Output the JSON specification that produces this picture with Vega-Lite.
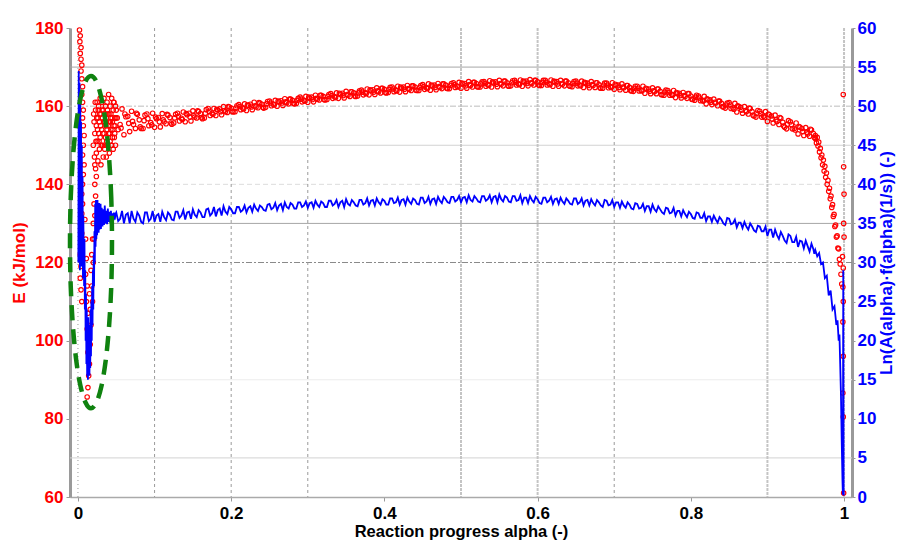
{
"$schema": "https://vega.github.io/schema/vega-lite/v6.json",
"width": 782, "height": 469,
"autosize": {"type": "none"},
"padding": {"left": 70, "top": 28, "right": 47, "bottom": 57},
"background": "white",
"config": {"view": {"stroke": null}, "font": "Liberation Sans",
 "axisX": {"grid":false,"labelFont":"Liberation Sans","labelFontSize":17,"labelFontWeight":"bold","labelColor":"#000000","labelFlush":false,"titleFont":"Liberation Sans","titleFontSize":16.5,"titleFontWeight":"bold","titleColor":"#000000","domainColor":"#aaaaaa","domainWidth":1.5,"tickColor":"#999999","tickSize":4,"labelPadding":4,"titlePadding":2}},
"datasets": {
"red": [
{"a":0.002,"e":179.5},{"a":0.003,"e":178},{"a":0.0025,"e":176.5},{"a":0.004,"e":175},{"a":0.003,"e":173.5},{"a":0.004,"e":172},{"a":0.005,"e":170.5},{"a":0.004,"e":169},{"a":0.005,"e":167},{"a":0.006,"e":165},{"a":0.005,"e":163},{"a":0.006,"e":161},{"a":0.007,"e":159},{"a":0.006,"e":157},{"a":0.007,"e":155},{"a":0.008,"e":152.5},{"a":0.007,"e":150},{"a":0.006,"e":147.5},{"a":0.008,"e":145},{"a":0.007,"e":142.5},{"a":0.006,"e":140},{"a":0.005,"e":137.5},{"a":0.006,"e":135},{"a":0.005,"e":132.5},{"a":0.004,"e":130},{"a":0.005,"e":127.5},{"a":0.004,"e":125},{"a":0.003,"e":122},{"a":0.004,"e":119},{"a":0.003,"e":116},{"a":0.004,"e":113},{"a":0.005,"e":110},
{"a":0.009,"e":131},{"a":0.010,"e":126},{"a":0.011,"e":121},{"a":0.010,"e":117},{"a":0.012,"e":114},{"a":0.011,"e":110},{"a":0.013,"e":107},{"a":0.012,"e":103},{"a":0.014,"e":100},{"a":0.013,"e":97},{"a":0.015,"e":94},{"a":0.014,"e":91},{"a":0.013,"e":88},{"a":0.012,"e":85.6},{"a":0.015,"e":112},{"a":0.016,"e":108},{"a":0.017,"e":104},{"a":0.016,"e":99},{"a":0.017,"e":118},{"a":0.018,"e":114},{"a":0.019,"e":110},{"a":0.018,"e":122},{"a":0.019,"e":126},{"a":0.020,"e":120},{"a":0.020,"e":130},{"a":0.021,"e":135},{"a":0.021,"e":126},{"a":0.022,"e":140},{"a":0.022,"e":132},{"a":0.023,"e":144},{"a":0.023,"e":137},{"a":0.022,"e":145},{"a":0.024,"e":142},
{"a":0.020,"e":150},{"a":0.021,"e":156},{"a":0.022,"e":153},{"a":0.023,"e":159},{"a":0.024,"e":148},{"a":0.024,"e":155},{"a":0.025,"e":161},{"a":0.025,"e":151},{"a":0.026,"e":146},{"a":0.026,"e":157},{"a":0.027,"e":153},{"a":0.027,"e":160},{"a":0.028,"e":149},{"a":0.028,"e":156},{"a":0.029,"e":162},{"a":0.029,"e":152},{"a":0.030,"e":145},{"a":0.030,"e":158},{"a":0.031,"e":154},{"a":0.031,"e":161},{"a":0.032,"e":150},{"a":0.032,"e":157},{"a":0.033,"e":147},{"a":0.033,"e":159},{"a":0.034,"e":153},{"a":0.034,"e":162},{"a":0.035,"e":156},{"a":0.035,"e":149},{"a":0.036,"e":160},{"a":0.036,"e":152},{"a":0.037,"e":157},{"a":0.037,"e":147},{"a":0.038,"e":154},{"a":0.038,"e":161},{"a":0.039,"e":150},{"a":0.039,"e":158},{"a":0.040,"e":163},{"a":0.040,"e":153},{"a":0.041,"e":156},{"a":0.041,"e":148},{"a":0.042,"e":160},{"a":0.042,"e":151},{"a":0.043,"e":158},{"a":0.043,"e":154},{"a":0.044,"e":162},{"a":0.044,"e":150},{"a":0.045,"e":156},{"a":0.045,"e":152},{"a":0.046,"e":159},{"a":0.046,"e":149},{"a":0.047,"e":155},{"a":0.047,"e":161},{"a":0.048,"e":153},{"a":0.048,"e":157},{"a":0.049,"e":150},{"a":0.049,"e":160},
{"a":0.0205,"e":158},{"a":0.0215,"e":147},{"a":0.0225,"e":161},{"a":0.0235,"e":151},{"a":0.0245,"e":157},{"a":0.0255,"e":154},{"a":0.0265,"e":159},{"a":0.0275,"e":151},{"a":0.0285,"e":158},{"a":0.0295,"e":155},{"a":0.0305,"e":150},{"a":0.0315,"e":159},{"a":0.0325,"e":153},{"a":0.0335,"e":156},{"a":0.0345,"e":150},{"a":0.0355,"e":158},{"a":0.0365,"e":155},{"a":0.0375,"e":151},{"a":0.0385,"e":159},{"a":0.0395,"e":155},{"a":0.0405,"e":158},{"a":0.0415,"e":153},{"a":0.0425,"e":156},{"a":0.0435,"e":150},{"a":0.0445,"e":157},{"a":0.0455,"e":154},{"a":0.0465,"e":161},{"a":0.0475,"e":152},{"a":0.0485,"e":155},{"a":0.0495,"e":157},
{"a":0.05,"e":159.0},{"a":0.0525,"e":154.0},{"a":0.055,"e":155.3},{"a":0.0575,"e":159.3},{"a":0.06,"e":152.7},{"a":0.0625,"e":157.3},{"a":0.065,"e":157.4},{"a":0.0675,"e":153.5},{"a":0.07,"e":158.7},{"a":0.0725,"e":155.3},{"a":0.075,"e":154.3},{"a":0.0775,"e":157.9},{"a":0.08,"e":156.5},{"a":0.0825,"e":154.3},{"a":0.085,"e":154.3},{"a":0.0875,"e":157.7},{"a":0.09,"e":158.0},{"a":0.0925,"e":155.0},{"a":0.095,"e":155.8},{"a":0.0975,"e":158.2},
{"a":0.1,"e":154.6},{"a":0.1025,"e":156.8},{"a":0.105,"e":157.1},{"a":0.1075,"e":154.7},{"a":0.11,"e":158.1},{"a":0.1125,"e":156.0},{"a":0.115,"e":155.5},{"a":0.1175,"e":157.7},{"a":0.12,"e":157.1},{"a":0.1225,"e":155.4},{"a":0.125,"e":155.7},{"a":0.1275,"e":157.9},{"a":0.13,"e":158.2},{"a":0.1325,"e":156.2},{"a":0.135,"e":156.9},{"a":0.1375,"e":158.5},{"a":0.14,"e":156.0},{"a":0.1425,"e":157.8},{"a":0.145,"e":158.2},{"a":0.1475,"e":156.2},
{"a":0.15,"e":158.8},{"a":0.1525,"e":157.2},{"a":0.155,"e":157.0},{"a":0.1575,"e":158.6},{"a":0.16,"e":158.1},{"a":0.1625,"e":156.8},{"a":0.165,"e":157.0},{"a":0.1675,"e":159.1},{"a":0.17,"e":159.4},{"a":0.1725,"e":157.6},{"a":0.175,"e":158.2},{"a":0.1775,"e":159.4},{"a":0.18,"e":157.6},{"a":0.1825,"e":159.0},{"a":0.185,"e":159.3},{"a":0.1875,"e":157.8},{"a":0.19,"e":159.9},{"a":0.1925,"e":158.6},{"a":0.195,"e":158.4},{"a":0.1975,"e":159.8},
{"a":0.2,"e":159.5},{"a":0.2025,"e":158.5},{"a":0.205,"e":158.6},{"a":0.2075,"e":160.1},{"a":0.21,"e":160.4},{"a":0.2125,"e":159.1},{"a":0.215,"e":159.5},{"a":0.2175,"e":160.6},{"a":0.22,"e":158.9},{"a":0.2225,"e":160.2},{"a":0.225,"e":160.5},{"a":0.2275,"e":159.1},{"a":0.23,"e":161.0},{"a":0.2325,"e":159.8},{"a":0.235,"e":159.6},{"a":0.2375,"e":160.8},{"a":0.24,"e":160.5},{"a":0.2425,"e":159.5},{"a":0.245,"e":159.7},{"a":0.2475,"e":161.2},
{"a":0.25,"e":161.3},{"a":0.2525,"e":160.1},{"a":0.255,"e":160.5},{"a":0.2575,"e":161.5},{"a":0.26,"e":160.0},{"a":0.2625,"e":161.1},{"a":0.265,"e":161.4},{"a":0.2675,"e":160.2},{"a":0.27,"e":161.9},{"a":0.2725,"e":160.9},{"a":0.275,"e":160.6},{"a":0.2775,"e":161.8},{"a":0.28,"e":161.5},{"a":0.2825,"e":160.6},{"a":0.285,"e":160.7},{"a":0.2875,"e":162.0},{"a":0.29,"e":162.3},{"a":0.2925,"e":161.1},{"a":0.295,"e":161.5},{"a":0.2975,"e":162.5},
{"a":0.3,"e":161.0},{"a":0.3025,"e":162.1},{"a":0.305,"e":162.3},{"a":0.3075,"e":161.1},{"a":0.31,"e":162.8},{"a":0.3125,"e":161.8},{"a":0.315,"e":161.6},{"a":0.3175,"e":162.8},{"a":0.32,"e":162.5},{"a":0.3225,"e":161.6},{"a":0.325,"e":161.7},{"a":0.3275,"e":163.0},{"a":0.33,"e":163.2},{"a":0.3325,"e":162.0},{"a":0.335,"e":162.4},{"a":0.3375,"e":163.4},{"a":0.34,"e":162.0},{"a":0.3425,"e":163.1},{"a":0.345,"e":163.3},{"a":0.3475,"e":162.1},
{"a":0.35,"e":163.8},{"a":0.3525,"e":162.8},{"a":0.355,"e":162.5},{"a":0.3575,"e":163.7},{"a":0.36,"e":163.4},{"a":0.3625,"e":162.5},{"a":0.365,"e":162.6},{"a":0.3675,"e":163.9},{"a":0.37,"e":164.1},{"a":0.3725,"e":162.9},{"a":0.375,"e":163.4},{"a":0.3775,"e":164.4},{"a":0.38,"e":162.9},{"a":0.3825,"e":164.0},{"a":0.385,"e":164.2},{"a":0.3875,"e":163.0},{"a":0.39,"e":164.7},{"a":0.3925,"e":163.7},{"a":0.395,"e":163.4},{"a":0.3975,"e":164.6},
{"a":0.4,"e":164.3},{"a":0.4025,"e":163.4},{"a":0.405,"e":163.5},{"a":0.4075,"e":164.8},{"a":0.41,"e":164.9},{"a":0.4125,"e":163.7},{"a":0.415,"e":164.1},{"a":0.4175,"e":165.1},{"a":0.42,"e":163.6},{"a":0.4225,"e":164.7},{"a":0.425,"e":164.9},{"a":0.4275,"e":163.7},{"a":0.43,"e":165.3},{"a":0.4325,"e":164.3},{"a":0.435,"e":164.0},{"a":0.4375,"e":165.2},{"a":0.44,"e":164.9},{"a":0.4425,"e":164.0},{"a":0.445,"e":164.0},{"a":0.4475,"e":165.3},
{"a":0.45,"e":165.5},{"a":0.4525,"e":164.3},{"a":0.455,"e":164.7},{"a":0.4575,"e":165.7},{"a":0.46,"e":164.1},{"a":0.4625,"e":165.2},{"a":0.465,"e":165.4},{"a":0.4675,"e":164.2},{"a":0.47,"e":165.8},{"a":0.4725,"e":164.8},{"a":0.475,"e":164.5},{"a":0.4775,"e":165.7},{"a":0.48,"e":165.4},{"a":0.4825,"e":164.5},{"a":0.485,"e":164.5},{"a":0.4875,"e":165.8},{"a":0.49,"e":166.0},{"a":0.4925,"e":164.8},{"a":0.495,"e":165.1},{"a":0.4975,"e":166.1},
{"a":0.5,"e":164.6},{"a":0.5025,"e":165.7},{"a":0.505,"e":165.8},{"a":0.5075,"e":164.6},{"a":0.51,"e":166.3},{"a":0.5125,"e":165.3},{"a":0.515,"e":164.9},{"a":0.5175,"e":166.1},{"a":0.52,"e":165.8},{"a":0.5225,"e":164.9},{"a":0.525,"e":164.9},{"a":0.5275,"e":166.2},{"a":0.53,"e":166.3},{"a":0.5325,"e":165.1},{"a":0.535,"e":165.5},{"a":0.5375,"e":166.5},{"a":0.54,"e":164.9},{"a":0.5425,"e":166.0},{"a":0.545,"e":166.2},{"a":0.5475,"e":165.0},
{"a":0.55,"e":166.6},{"a":0.5525,"e":165.6},{"a":0.555,"e":165.2},{"a":0.5575,"e":166.4},{"a":0.56,"e":166.0},{"a":0.5625,"e":165.1},{"a":0.565,"e":165.2},{"a":0.5675,"e":166.5},{"a":0.57,"e":166.6},{"a":0.5725,"e":165.4},{"a":0.575,"e":165.7},{"a":0.5775,"e":166.7},{"a":0.58,"e":165.1},{"a":0.5825,"e":166.2},{"a":0.585,"e":166.4},{"a":0.5875,"e":165.2},{"a":0.59,"e":166.8},{"a":0.5925,"e":165.8},{"a":0.595,"e":165.4},{"a":0.5975,"e":166.6},
{"a":0.6,"e":166.2},{"a":0.6025,"e":165.3},{"a":0.605,"e":165.3},{"a":0.6075,"e":166.6},{"a":0.61,"e":166.6},{"a":0.6125,"e":165.4},{"a":0.615,"e":165.7},{"a":0.6175,"e":166.7},{"a":0.62,"e":165.1},{"a":0.6225,"e":166.2},{"a":0.625,"e":166.3},{"a":0.6275,"e":165.1},{"a":0.63,"e":166.6},{"a":0.6325,"e":165.6},{"a":0.635,"e":165.2},{"a":0.6375,"e":166.4},{"a":0.64,"e":166.0},{"a":0.6425,"e":165.1},{"a":0.645,"e":165.0},{"a":0.6475,"e":166.3},
{"a":0.65,"e":166.4},{"a":0.6525,"e":165.2},{"a":0.655,"e":165.4},{"a":0.6575,"e":166.4},{"a":0.66,"e":164.8},{"a":0.6625,"e":165.9},{"a":0.665,"e":165.9},{"a":0.6675,"e":164.7},{"a":0.67,"e":166.3},{"a":0.6725,"e":165.3},{"a":0.675,"e":164.8},{"a":0.6775,"e":166.0},{"a":0.68,"e":165.5},{"a":0.6825,"e":164.6},{"a":0.685,"e":164.6},{"a":0.6875,"e":165.9},{"a":0.69,"e":165.9},{"a":0.6925,"e":164.7},{"a":0.695,"e":165.0},{"a":0.6975,"e":166.0},
{"a":0.7,"e":164.3},{"a":0.7025,"e":165.4},{"a":0.705,"e":165.4},{"a":0.7075,"e":164.2},{"a":0.71,"e":165.7},{"a":0.7125,"e":164.7},{"a":0.715,"e":164.1},{"a":0.7175,"e":165.3},{"a":0.72,"e":164.8},{"a":0.7225,"e":163.9},{"a":0.725,"e":163.8},{"a":0.7275,"e":165.1},{"a":0.73,"e":165.1},{"a":0.7325,"e":163.9},{"a":0.735,"e":164.1},{"a":0.7375,"e":165.1},{"a":0.74,"e":163.3},{"a":0.7425,"e":164.4},{"a":0.745,"e":164.4},{"a":0.7475,"e":163.2},
{"a":0.75,"e":164.7},{"a":0.7525,"e":163.7},{"a":0.755,"e":163.2},{"a":0.7575,"e":164.4},{"a":0.76,"e":163.8},{"a":0.7625,"e":162.9},{"a":0.765,"e":162.8},{"a":0.7675,"e":164.1},{"a":0.77,"e":164.0},{"a":0.7725,"e":162.8},{"a":0.775,"e":163.0},{"a":0.7775,"e":164.0},{"a":0.78,"e":162.2},{"a":0.7825,"e":163.3},{"a":0.785,"e":163.3},{"a":0.7875,"e":162.1},{"a":0.79,"e":163.5},{"a":0.7925,"e":162.5},{"a":0.795,"e":162.0},{"a":0.7975,"e":163.2},
{"a":0.8,"e":162.6},{"a":0.8025,"e":161.7},{"a":0.805,"e":161.5},{"a":0.8075,"e":162.8},{"a":0.81,"e":162.6},{"a":0.8125,"e":161.4},{"a":0.815,"e":161.5},{"a":0.8175,"e":162.5},{"a":0.82,"e":160.6},{"a":0.8225,"e":161.7},{"a":0.825,"e":161.6},{"a":0.8275,"e":160.4},{"a":0.83,"e":161.8},{"a":0.8325,"e":160.8},{"a":0.835,"e":160.1},{"a":0.8375,"e":161.3},{"a":0.84,"e":160.7},{"a":0.8425,"e":159.8},{"a":0.845,"e":159.5},{"a":0.8475,"e":160.8},
{"a":0.85,"e":160.9},{"a":0.8525,"e":159.4},{"a":0.855,"e":159.5},{"a":0.8575,"e":160.7},{"a":0.86,"e":158.5},{"a":0.8625,"e":159.9},{"a":0.865,"e":159.7},{"a":0.8675,"e":158.2},{"a":0.87,"e":159.9},{"a":0.8725,"e":158.6},{"a":0.875,"e":158.0},{"a":0.8775,"e":159.4},{"a":0.88,"e":158.6},{"a":0.8825,"e":157.5},{"a":0.885,"e":157.2},{"a":0.8875,"e":158.9},{"a":0.89,"e":158.7},{"a":0.8925,"e":157.2},{"a":0.895,"e":157.4},{"a":0.8975,"e":158.6},
{"a":0.9,"e":156.1},{"a":0.9025,"e":157.8},{"a":0.905,"e":157.5},{"a":0.9075,"e":155.7},{"a":0.91,"e":157.7},{"a":0.9125,"e":156.1},{"a":0.915,"e":155.3},{"a":0.9175,"e":156.9},{"a":0.92,"e":155.9},{"a":0.9225,"e":154.6},{"a":0.925,"e":154.2},{"a":0.9275,"e":156.3},{"a":0.93,"e":156.0},{"a":0.9325,"e":154.2},{"a":0.935,"e":154.3},{"a":0.9375,"e":155.7},{"a":0.94,"e":152.9},{"a":0.9425,"e":154.6},{"a":0.945,"e":154.3},{"a":0.9475,"e":152.5},
{"a":0.95,"e":154.5},{"a":0.9525,"e":152.9},{"a":0.955,"e":152.3},{"a":0.9575,"e":153.9},{"a":0.96,"e":153.0},{"a":0.9625,"e":151.7},
{"a":0.05125,"e":157.0},{"a":0.05625,"e":154.4},{"a":0.06125,"e":158.0},{"a":0.06625,"e":155.6},{"a":0.07125,"e":156.1},{"a":0.07625,"e":158.2},{"a":0.08125,"e":154.7},{"a":0.08625,"e":156.3},{"a":0.09125,"e":156.8},{"a":0.09625,"e":155.2},
{"a":0.10125,"e":157.2},{"a":0.10625,"e":156.0},{"a":0.11125,"e":156.5},{"a":0.11625,"e":157.9},{"a":0.12125,"e":155.7},{"a":0.12625,"e":157.0},{"a":0.13125,"e":157.4},{"a":0.13625,"e":156.6},{"a":0.14125,"e":158.1},{"a":0.14625,"e":157.2},
{"a":0.15125,"e":157.6},{"a":0.15625,"e":158.8},{"a":0.16125,"e":157.1},{"a":0.16625,"e":158.2},{"a":0.17125,"e":158.7},{"a":0.17625,"e":157.9},{"a":0.18125,"e":159.2},{"a":0.18625,"e":158.6},{"a":0.19125,"e":158.9},{"a":0.19625,"e":159.9},
{"a":0.20125,"e":158.7},{"a":0.20625,"e":159.5},{"a":0.21125,"e":159.9},{"a":0.21625,"e":159.3},{"a":0.22125,"e":160.3},{"a":0.22625,"e":159.8},{"a":0.23125,"e":160.1},{"a":0.23625,"e":160.9},{"a":0.24125,"e":159.7},{"a":0.24625,"e":160.6},
{"a":0.25125,"e":160.8},{"a":0.25625,"e":160.3},{"a":0.26125,"e":161.3},{"a":0.26625,"e":160.8},{"a":0.27125,"e":161.1},{"a":0.27625,"e":161.8},{"a":0.28125,"e":160.7},{"a":0.28625,"e":161.5},{"a":0.29125,"e":161.8},{"a":0.29625,"e":161.3},
{"a":0.30125,"e":162.3},{"a":0.30625,"e":161.7},{"a":0.31125,"e":162.0},{"a":0.31625,"e":162.8},{"a":0.32125,"e":161.7},{"a":0.32625,"e":162.5},{"a":0.33125,"e":162.7},{"a":0.33625,"e":162.2},{"a":0.34125,"e":163.3},{"a":0.34625,"e":162.7},
{"a":0.35125,"e":163.0},{"a":0.35625,"e":163.7},{"a":0.36125,"e":162.6},{"a":0.36625,"e":163.4},{"a":0.37125,"e":163.6},{"a":0.37625,"e":163.2},{"a":0.38125,"e":164.2},{"a":0.38625,"e":163.6},{"a":0.39125,"e":163.9},{"a":0.39625,"e":164.6},
{"a":0.40125,"e":163.5},{"a":0.40625,"e":164.3},{"a":0.41125,"e":164.4},{"a":0.41625,"e":163.9},{"a":0.42125,"e":164.9},{"a":0.42625,"e":164.3},{"a":0.43125,"e":164.5},{"a":0.43625,"e":165.2},{"a":0.44125,"e":164.1},{"a":0.44625,"e":164.8},
{"a":0.45125,"e":165.0},{"a":0.45625,"e":164.5},{"a":0.46125,"e":165.4},{"a":0.46625,"e":164.8},{"a":0.47125,"e":165.0},{"a":0.47625,"e":165.7},{"a":0.48125,"e":164.6},{"a":0.48625,"e":165.3},{"a":0.49125,"e":165.5},{"a":0.49625,"e":164.9},
{"a":0.50125,"e":165.9},{"a":0.50625,"e":165.2},{"a":0.51125,"e":165.5},{"a":0.51625,"e":166.1},{"a":0.52125,"e":165.0},{"a":0.52625,"e":165.7},{"a":0.53125,"e":165.8},{"a":0.53625,"e":165.3},{"a":0.54125,"e":166.2},{"a":0.54625,"e":165.6},
{"a":0.55125,"e":165.8},{"a":0.55625,"e":166.4},{"a":0.56125,"e":165.2},{"a":0.56625,"e":166.0},{"a":0.57125,"e":166.1},{"a":0.57625,"e":165.5},{"a":0.58125,"e":166.4},{"a":0.58625,"e":165.8},{"a":0.59125,"e":166.0},{"a":0.59625,"e":166.6},
{"a":0.60125,"e":165.4},{"a":0.60625,"e":166.1},{"a":0.61125,"e":166.1},{"a":0.61625,"e":165.5},{"a":0.62125,"e":166.4},{"a":0.62625,"e":165.7},{"a":0.63125,"e":165.8},{"a":0.63625,"e":166.4},{"a":0.64125,"e":165.2},{"a":0.64625,"e":165.8},
{"a":0.65125,"e":165.9},{"a":0.65625,"e":165.2},{"a":0.66125,"e":166.1},{"a":0.66625,"e":165.3},{"a":0.67125,"e":165.5},{"a":0.67625,"e":166.0},{"a":0.68125,"e":164.7},{"a":0.68625,"e":165.4},{"a":0.69125,"e":165.4},{"a":0.69625,"e":164.8},
{"a":0.70125,"e":165.6},{"a":0.70625,"e":164.8},{"a":0.71125,"e":164.9},{"a":0.71625,"e":165.3},{"a":0.72125,"e":164.0},{"a":0.72625,"e":164.6},{"a":0.73125,"e":164.6},{"a":0.73625,"e":163.9},{"a":0.74125,"e":164.6},{"a":0.74625,"e":163.8},
{"a":0.75125,"e":163.9},{"a":0.75625,"e":164.4},{"a":0.76125,"e":163.0},{"a":0.76625,"e":163.6},{"a":0.77125,"e":163.5},{"a":0.77625,"e":162.8},{"a":0.78125,"e":163.5},{"a":0.78625,"e":162.7},{"a":0.79125,"e":162.7},{"a":0.79625,"e":163.2},
{"a":0.80125,"e":161.8},{"a":0.80625,"e":162.3},{"a":0.81125,"e":162.1},{"a":0.81625,"e":161.3},{"a":0.82125,"e":161.9},{"a":0.82625,"e":161.0},{"a":0.83125,"e":161.0},{"a":0.83625,"e":161.3},{"a":0.84125,"e":159.9},{"a":0.84625,"e":160.3},
{"a":0.85125,"e":160.3},{"a":0.85625,"e":159.2},{"a":0.86125,"e":160.1},{"a":0.86625,"e":159.0},{"a":0.87125,"e":158.9},{"a":0.87625,"e":159.5},{"a":0.88125,"e":157.7},{"a":0.88625,"e":158.2},{"a":0.89125,"e":158.1},{"a":0.89625,"e":157.1},
{"a":0.90125,"e":158.0},{"a":0.90625,"e":156.7},{"a":0.91125,"e":156.5},{"a":0.91625,"e":157.1},{"a":0.92125,"e":154.9},{"a":0.92625,"e":155.4},{"a":0.93125,"e":155.3},{"a":0.93625,"e":153.9},{"a":0.94125,"e":154.8},{"a":0.94625,"e":153.5},
{"a":0.95125,"e":153.3},{"a":0.95625,"e":154.1},{"a":0.96125,"e":152.0},
{"a":0.9625,"e":152.5},{"a":0.964,"e":150.6},{"a":0.965,"e":152.0},{"a":0.966,"e":149.8},{"a":0.967,"e":150.8},{"a":0.968,"e":148.3},{"a":0.969,"e":149.2},{"a":0.970,"e":146.8},{"a":0.971,"e":147.5},{"a":0.972,"e":145.0},{"a":0.973,"e":146.2},{"a":0.974,"e":143.4},{"a":0.975,"e":144.6},{"a":0.976,"e":141.8},{"a":0.977,"e":142.9},{"a":0.978,"e":140.0},{"a":0.979,"e":141.0},{"a":0.980,"e":138.2},{"a":0.981,"e":139.0},{"a":0.982,"e":136.3},{"a":0.983,"e":137.0},{"a":0.984,"e":134.1},{"a":0.985,"e":134.8},{"a":0.986,"e":131.8},{"a":0.987,"e":132.3},{"a":0.988,"e":129.2},{"a":0.989,"e":129.6},{"a":0.990,"e":126.5},{"a":0.991,"e":126.8},{"a":0.992,"e":123.7},{"a":0.993,"e":123.5},{"a":0.994,"e":120.8},{"a":0.995,"e":119.6},{"a":0.996,"e":117.0},{"a":0.997,"e":114.5},{"a":0.998,"e":121.5},
{"a":0.9985,"e":104.8},{"a":0.999,"e":96},{"a":0.9985,"e":86.6},{"a":0.999,"e":80.5},{"a":0.9995,"e":61},{"a":0.999,"e":163},{"a":0.9995,"e":144.5},{"a":1.0,"e":137.5},{"a":0.9995,"e":130},{"a":1.0,"e":126.5},{"a":0.999,"e":118.6},{"a":0.9985,"e":113.7},{"a":0.999,"e":110}
],
"blue": [
{"a":0.0005,"r":30},{"a":0.001,"r":54.5},{"a":0.0015,"r":33},{"a":0.002,"r":53},{"a":0.0025,"r":29},{"a":0.003,"r":51},{"a":0.0035,"r":31},{"a":0.004,"r":48},{"a":0.0045,"r":29.5},{"a":0.005,"r":45},{"a":0.0055,"r":30},{"a":0.006,"r":41},{"a":0.0065,"r":28},{"a":0.007,"r":36},{"a":0.0075,"r":31},{"a":0.008,"r":27},{"a":0.0085,"r":33},{"a":0.009,"r":24},{"a":0.0095,"r":29},{"a":0.010,"r":20},{"a":0.0105,"r":26},{"a":0.011,"r":17},{"a":0.0115,"r":24},{"a":0.012,"r":15.5},{"a":0.0125,"r":22},{"a":0.013,"r":15},{"a":0.0135,"r":23},{"a":0.014,"r":16},{"a":0.0145,"r":21},{"a":0.015,"r":15.5},{"a":0.0155,"r":22},{"a":0.016,"r":16.5},{"a":0.0165,"r":24},{"a":0.017,"r":18},{"a":0.0175,"r":25},{"a":0.018,"r":20},{"a":0.0185,"r":27},{"a":0.019,"r":22},{"a":0.0195,"r":29},{"a":0.020,"r":24},{"a":0.0205,"r":31},{"a":0.021,"r":27},{"a":0.0215,"r":34},{"a":0.022,"r":30},{"a":0.0225,"r":37.5},{"a":0.023,"r":32},{"a":0.0235,"r":38},{"a":0.024,"r":33},{"a":0.0245,"r":37.8},{"a":0.025,"r":33.5},{"a":0.0255,"r":38},{"a":0.026,"r":34},{"a":0.0265,"r":37.2},{"a":0.027,"r":33.8},{"a":0.0275,"r":37.6},{"a":0.028,"r":34.2},{"a":0.0285,"r":37},{"a":0.029,"r":34.5},{"a":0.0295,"r":37.5},{"a":0.030,"r":34.3},{"a":0.031,"r":37},{"a":0.032,"r":34.6},{"a":0.033,"r":36.8},{"a":0.034,"r":34.8},{"a":0.035,"r":37.3},{"a":0.036,"r":35},{"a":0.037,"r":36.6},{"a":0.038,"r":34.9},{"a":0.039,"r":36.9},{"a":0.040,"r":35.2},{"a":0.041,"r":36.5},{"a":0.042,"r":35.1},{"a":0.043,"r":36.6},{"a":0.044,"r":35.4},{"a":0.045,"r":36.3},{"a":0.046,"r":35.3},{"a":0.047,"r":36.4},{"a":0.048,"r":35.5},{"a":0.049,"r":36.2},
{"a":0.05,"r":36.4},{"a":0.0525,"r":35.3},{"a":0.055,"r":35.6},{"a":0.0575,"r":36.6},{"a":0.06,"r":35.0},{"a":0.0625,"r":36.1},{"a":0.065,"r":36.3},{"a":0.0675,"r":35.0},{"a":0.07,"r":36.6},{"a":0.0725,"r":35.6},{"a":0.075,"r":35.2},{"a":0.0775,"r":36.4},{"a":0.08,"r":36.0},{"a":0.0825,"r":35.2},{"a":0.085,"r":35.0},{"a":0.0875,"r":36.4},{"a":0.09,"r":36.4},{"a":0.0925,"r":35.3},{"a":0.095,"r":35.6},{"a":0.0975,"r":36.6},
{"a":0.1,"r":35.2},{"a":0.1025,"r":36.0},{"a":0.105,"r":36.2},{"a":0.1075,"r":35.2},{"a":0.11,"r":36.5},{"a":0.1125,"r":35.8},{"a":0.115,"r":35.4},{"a":0.1175,"r":36.4},{"a":0.12,"r":36.1},{"a":0.1225,"r":35.5},{"a":0.125,"r":35.4},{"a":0.1275,"r":36.5},{"a":0.13,"r":36.5},{"a":0.1325,"r":35.7},{"a":0.135,"r":36.0},{"a":0.1375,"r":36.7},{"a":0.14,"r":35.5},{"a":0.1425,"r":36.4},{"a":0.145,"r":36.5},{"a":0.1475,"r":35.6},
{"a":0.15,"r":36.8},{"a":0.1525,"r":36.1},{"a":0.155,"r":35.8},{"a":0.1575,"r":36.7},{"a":0.16,"r":36.4},{"a":0.1625,"r":35.8},{"a":0.165,"r":35.8},{"a":0.1675,"r":36.8},{"a":0.17,"r":36.9},{"a":0.1725,"r":36.0},{"a":0.175,"r":36.3},{"a":0.1775,"r":37.1},{"a":0.18,"r":35.9},{"a":0.1825,"r":36.7},{"a":0.185,"r":36.9},{"a":0.1875,"r":36.0},{"a":0.19,"r":37.2},{"a":0.1925,"r":36.5},{"a":0.195,"r":36.2},{"a":0.1975,"r":37.1},
{"a":0.2,"r":36.8},{"a":0.2025,"r":36.3},{"a":0.205,"r":36.3},{"a":0.2075,"r":37.1},{"a":0.21,"r":37.1},{"a":0.2125,"r":36.5},{"a":0.215,"r":36.7},{"a":0.2175,"r":37.3},{"a":0.22,"r":36.4},{"a":0.2225,"r":37.0},{"a":0.225,"r":37.2},{"a":0.2275,"r":36.5},{"a":0.23,"r":37.4},{"a":0.2325,"r":36.9},{"a":0.235,"r":36.6},{"a":0.2375,"r":37.3},{"a":0.24,"r":37.1},{"a":0.2425,"r":36.7},{"a":0.245,"r":36.6},{"a":0.2475,"r":37.4},
{"a":0.25,"r":37.5},{"a":0.2525,"r":36.8},{"a":0.255,"r":37.0},{"a":0.2575,"r":37.6},{"a":0.26,"r":36.7},{"a":0.2625,"r":37.3},{"a":0.265,"r":37.5},{"a":0.2675,"r":36.7},{"a":0.27,"r":37.7},{"a":0.2725,"r":37.1},{"a":0.275,"r":36.9},{"a":0.2775,"r":37.6},{"a":0.28,"r":37.4},{"a":0.2825,"r":36.9},{"a":0.285,"r":36.9},{"a":0.2875,"r":37.7},{"a":0.29,"r":37.7},{"a":0.2925,"r":37.1},{"a":0.295,"r":37.3},{"a":0.2975,"r":37.8},
{"a":0.3,"r":37.0},{"a":0.3025,"r":37.6},{"a":0.305,"r":37.7},{"a":0.3075,"r":37.0},{"a":0.31,"r":37.9},{"a":0.3125,"r":37.4},{"a":0.315,"r":37.1},{"a":0.3175,"r":37.8},{"a":0.32,"r":37.6},{"a":0.3225,"r":37.1},{"a":0.325,"r":37.1},{"a":0.3275,"r":37.9},{"a":0.33,"r":37.9},{"a":0.3325,"r":37.3},{"a":0.335,"r":37.5},{"a":0.3375,"r":38.0},{"a":0.34,"r":37.1},{"a":0.3425,"r":37.7},{"a":0.345,"r":37.9},{"a":0.3475,"r":37.1},
{"a":0.35,"r":38.1},{"a":0.3525,"r":37.5},{"a":0.355,"r":37.3},{"a":0.3575,"r":38.0},{"a":0.36,"r":37.7},{"a":0.3625,"r":37.3},{"a":0.365,"r":37.2},{"a":0.3675,"r":38.0},{"a":0.37,"r":38.0},{"a":0.3725,"r":37.4},{"a":0.375,"r":37.6},{"a":0.3775,"r":38.2},{"a":0.38,"r":37.3},{"a":0.3825,"r":37.9},{"a":0.385,"r":38.0},{"a":0.3875,"r":37.3},{"a":0.39,"r":38.2},{"a":0.3925,"r":37.7},{"a":0.395,"r":37.4},{"a":0.3975,"r":38.1},
{"a":0.4,"r":37.9},{"a":0.4025,"r":37.4},{"a":0.405,"r":37.4},{"a":0.4075,"r":38.2},{"a":0.41,"r":38.2},{"a":0.4125,"r":37.6},{"a":0.415,"r":37.7},{"a":0.4175,"r":38.3},{"a":0.42,"r":37.4},{"a":0.4225,"r":38.0},{"a":0.425,"r":38.1},{"a":0.4275,"r":37.4},{"a":0.43,"r":38.3},{"a":0.4325,"r":37.8},{"a":0.435,"r":37.5},{"a":0.4375,"r":38.2},{"a":0.44,"r":38.0},{"a":0.4425,"r":37.5},{"a":0.445,"r":37.4},{"a":0.4475,"r":38.3},
{"a":0.45,"r":38.3},{"a":0.4525,"r":37.6},{"a":0.455,"r":37.8},{"a":0.4575,"r":38.4},{"a":0.46,"r":37.5},{"a":0.4625,"r":38.1},{"a":0.465,"r":38.2},{"a":0.4675,"r":37.5},{"a":0.47,"r":38.4},{"a":0.4725,"r":37.9},{"a":0.475,"r":37.6},{"a":0.4775,"r":38.4},{"a":0.48,"r":38.1},{"a":0.4825,"r":37.7},{"a":0.485,"r":37.6},{"a":0.4875,"r":38.4},{"a":0.49,"r":38.4},{"a":0.4925,"r":37.8},{"a":0.495,"r":38.0},{"a":0.4975,"r":38.5},
{"a":0.5,"r":37.7},{"a":0.5025,"r":38.3},{"a":0.505,"r":38.4},{"a":0.5075,"r":37.7},{"a":0.51,"r":38.6},{"a":0.5125,"r":38.0},{"a":0.515,"r":37.8},{"a":0.5175,"r":38.5},{"a":0.52,"r":38.2},{"a":0.5225,"r":37.8},{"a":0.525,"r":37.7},{"a":0.5275,"r":38.5},{"a":0.53,"r":38.5},{"a":0.5325,"r":37.9},{"a":0.535,"r":38.1},{"a":0.5375,"r":38.6},{"a":0.54,"r":37.7},{"a":0.5425,"r":38.4},{"a":0.545,"r":38.5},{"a":0.5475,"r":37.7},
{"a":0.55,"r":38.7},{"a":0.5525,"r":38.1},{"a":0.555,"r":37.8},{"a":0.5575,"r":38.5},{"a":0.56,"r":38.3},{"a":0.5625,"r":37.8},{"a":0.565,"r":37.7},{"a":0.5675,"r":38.5},{"a":0.57,"r":38.5},{"a":0.5725,"r":37.9},{"a":0.575,"r":38.0},{"a":0.5775,"r":38.6},{"a":0.58,"r":37.6},{"a":0.5825,"r":38.3},{"a":0.585,"r":38.3},{"a":0.5875,"r":37.6},{"a":0.59,"r":38.5},{"a":0.5925,"r":38.0},{"a":0.595,"r":37.7},{"a":0.5975,"r":38.4},
{"a":0.6,"r":38.1},{"a":0.6025,"r":37.6},{"a":0.605,"r":37.5},{"a":0.6075,"r":38.3},{"a":0.61,"r":38.3},{"a":0.6125,"r":37.7},{"a":0.615,"r":37.9},{"a":0.6175,"r":38.4},{"a":0.62,"r":37.5},{"a":0.6225,"r":38.1},{"a":0.625,"r":38.2},{"a":0.6275,"r":37.5},{"a":0.63,"r":38.3},{"a":0.6325,"r":37.8},{"a":0.635,"r":37.5},{"a":0.6375,"r":38.2},{"a":0.64,"r":37.9},{"a":0.6425,"r":37.5},{"a":0.645,"r":37.4},{"a":0.6475,"r":38.2},
{"a":0.65,"r":38.2},{"a":0.6525,"r":37.5},{"a":0.655,"r":37.7},{"a":0.6575,"r":38.2},{"a":0.66,"r":37.3},{"a":0.6625,"r":37.9},{"a":0.665,"r":38.0},{"a":0.6675,"r":37.3},{"a":0.67,"r":38.1},{"a":0.6725,"r":37.6},{"a":0.675,"r":37.3},{"a":0.6775,"r":38.0},{"a":0.68,"r":37.7},{"a":0.6825,"r":37.3},{"a":0.685,"r":37.1},{"a":0.6875,"r":38.0},{"a":0.69,"r":37.9},{"a":0.6925,"r":37.3},{"a":0.695,"r":37.4},{"a":0.6975,"r":38.0},
{"a":0.7,"r":37.1},{"a":0.7025,"r":37.7},{"a":0.705,"r":37.7},{"a":0.7075,"r":37.0},{"a":0.71,"r":37.8},{"a":0.7125,"r":37.3},{"a":0.715,"r":37.0},{"a":0.7175,"r":37.7},{"a":0.72,"r":37.4},{"a":0.7225,"r":36.9},{"a":0.725,"r":36.8},{"a":0.7275,"r":37.6},{"a":0.73,"r":37.5},{"a":0.7325,"r":36.9},{"a":0.735,"r":37.0},{"a":0.7375,"r":37.5},{"a":0.74,"r":36.6},{"a":0.7425,"r":37.2},{"a":0.745,"r":37.2},{"a":0.7475,"r":36.5},
{"a":0.75,"r":37.4},{"a":0.7525,"r":36.8},{"a":0.755,"r":36.5},{"a":0.7575,"r":37.2},{"a":0.76,"r":36.8},{"a":0.7625,"r":36.4},{"a":0.765,"r":36.2},{"a":0.7675,"r":37.0},{"a":0.77,"r":36.9},{"a":0.7725,"r":36.3},{"a":0.775,"r":36.4},{"a":0.7775,"r":37.0},{"a":0.78,"r":36.0},{"a":0.7825,"r":36.6},{"a":0.785,"r":36.6},{"a":0.7875,"r":35.9},{"a":0.79,"r":36.7},{"a":0.7925,"r":36.2},{"a":0.795,"r":35.8},{"a":0.7975,"r":36.5},
{"a":0.8,"r":36.2},{"a":0.8025,"r":35.7},{"a":0.805,"r":35.6},{"a":0.8075,"r":36.4},{"a":0.81,"r":36.3},{"a":0.8125,"r":35.7},{"a":0.815,"r":35.7},{"a":0.8175,"r":36.3},{"a":0.82,"r":35.3},{"a":0.8225,"r":35.9},{"a":0.825,"r":35.9},{"a":0.8275,"r":35.2},{"a":0.83,"r":36.0},{"a":0.8325,"r":35.5},{"a":0.835,"r":35.1},{"a":0.8375,"r":35.8},{"a":0.84,"r":35.5},{"a":0.8425,"r":35.0},{"a":0.845,"r":34.8},{"a":0.8475,"r":35.7},
{"a":0.85,"r":35.6},{"a":0.8525,"r":34.9},{"a":0.855,"r":35.0},{"a":0.8575,"r":35.5},{"a":0.86,"r":34.5},{"a":0.8625,"r":35.1},{"a":0.865,"r":35.1},{"a":0.8675,"r":34.4},{"a":0.87,"r":35.2},{"a":0.8725,"r":34.6},{"a":0.875,"r":34.2},{"a":0.8775,"r":35.0},{"a":0.88,"r":34.6},{"a":0.8825,"r":34.1},{"a":0.885,"r":33.9},{"a":0.8875,"r":34.7},{"a":0.89,"r":34.6},{"a":0.8925,"r":34.0},{"a":0.895,"r":34.0},{"a":0.8975,"r":34.6},
{"a":0.9,"r":33.4},{"a":0.9025,"r":34.2},{"a":0.905,"r":34.2},{"a":0.9075,"r":33.2},{"a":0.91,"r":34.2},{"a":0.9125,"r":33.5},{"a":0.915,"r":33.0},{"a":0.9175,"r":33.9},{"a":0.92,"r":33.4},{"a":0.9225,"r":32.8},{"a":0.925,"r":32.5},{"a":0.9275,"r":33.6},{"a":0.93,"r":33.4},{"a":0.9325,"r":32.6},{"a":0.935,"r":32.6},{"a":0.9375,"r":33.3},{"a":0.94,"r":32.0},{"a":0.9425,"r":32.8},{"a":0.945,"r":32.7},{"a":0.9475,"r":31.8},
{"a":0.95,"r":32.8},{"a":0.9525,"r":32.1},{"a":0.955,"r":31.4},{"a":0.9575,"r":32.4},{"a":0.96,"r":31.7},{"a":0.9612,"r":31.1},
{"a":0.9625,"r":31.6},{"a":0.965,"r":30.8},{"a":0.9675,"r":31.2},{"a":0.97,"r":29.8},{"a":0.9725,"r":30.0},{"a":0.975,"r":28.0},{"a":0.9775,"r":28.3},{"a":0.98,"r":25.8},{"a":0.9825,"r":26.4},{"a":0.985,"r":24.0},{"a":0.9875,"r":24.4},{"a":0.99,"r":22.0},{"a":0.9915,"r":22.6},{"a":0.993,"r":20.0},{"a":0.994,"r":20.8},{"a":0.995,"r":17.0},{"a":0.996,"r":13.0},{"a":0.997,"r":7.0},{"a":0.998,"r":2.0},{"a":0.9985,"r":0.3},{"a":0.999,"r":29.0},{"a":0.9995,"r":0.2}
],
"ell": [
{"i":0,"a":0.0444,"e":125.2},{"i":1,"a":0.0435,"e":136.2},{"i":2,"a":0.0407,"e":146.5},{"i":3,"a":0.0364,"e":155.3},{"i":4,"a":0.0307,"e":162.0},{"i":5,"a":0.0241,"e":166.3},{"i":6,"a":0.017,"e":167.7},{"i":7,"a":0.0099,"e":166.3},{"i":8,"a":0.0033,"e":162.0},{"i":9,"a":-0.0024,"e":155.3},{"i":10,"a":-0.0067,"e":146.5},{"i":11,"a":-0.0095,"e":136.2},{"i":12,"a":-0.0104,"e":125.2},{"i":13,"a":-0.0095,"e":114.2},{"i":14,"a":-0.0067,"e":104.0},{"i":15,"a":-0.0024,"e":95.2},{"i":16,"a":0.0033,"e":88.4},{"i":17,"a":0.0099,"e":84.2},{"i":18,"a":0.017,"e":82.7},{"i":19,"a":0.0241,"e":84.2},{"i":20,"a":0.0307,"e":88.4},{"i":21,"a":0.0364,"e":95.2},{"i":22,"a":0.0407,"e":104.0},{"i":23,"a":0.0435,"e":114.2}
]
},
"layer": [
{"data": {"values": [{"g":170},{"g":130}]}, "mark": {"type":"rule","color":"#a6a6a6","strokeWidth":1}, "encoding": {"y": {"field":"g","type":"quantitative","scale":{"domain":[60,180]},"axis":null}}},
{"data": {"values": [{"g":150},{"g":70}]}, "mark": {"type":"rule","color":"#d2d2d2","strokeWidth":1}, "encoding": {"y": {"field":"g","type":"quantitative","scale":{"domain":[60,180]},"axis":null}}},
{"data": {"values": [{"g":90}]}, "mark": {"type":"rule","color":"#ececec","strokeWidth":1}, "encoding": {"y": {"field":"g","type":"quantitative","scale":{"domain":[60,180]},"axis":null}}},
{"data": {"values": [{"g":160}]}, "mark": {"type":"rule","color":"#bdbdbd","strokeWidth":1,"strokeDash":[6,2,2,2]}, "encoding": {"y": {"field":"g","type":"quantitative","scale":{"domain":[60,180]},"axis":null}}},
{"data": {"values": [{"g":120}]}, "mark": {"type":"rule","color":"#8a8a8a","strokeWidth":1,"strokeDash":[6,2,2,2]}, "encoding": {"y": {"field":"g","type":"quantitative","scale":{"domain":[60,180]},"axis":null}}},
{"data": {"values": [{"g":140}]}, "mark": {"type":"rule","color":"#dddddd","strokeWidth":1,"strokeDash":[5,3]}, "encoding": {"y": {"field":"g","type":"quantitative","scale":{"domain":[60,180]},"axis":null}}},
{"data": {"values": [{"a":0.1},{"a":0.2},{"a":0.3},{"a":0.7}]}, "mark": {"type":"rule","color":"#9a9a9a","strokeWidth":1,"strokeDash":[3,3]}, "encoding": {"x": {"field":"a","type":"quantitative","scale":{"domain":[-0.0104,1.0104],"nice":false,"zero":false},"axis":{"values":[0,0.2,0.4,0.6,0.8,1],"format":"~g","title":"Reaction progress alpha (-)"}}}},
{"data": {"values": [{"a":0.5},{"a":0.6},{"a":0.9},{"a":1.0}]}, "mark": {"type":"rule","color":"#c4c4c4","strokeWidth":2,"strokeDash":[3,1]}, "encoding": {"x": {"field":"a","type":"quantitative","scale":{"domain":[-0.0104,1.0104],"nice":false,"zero":false},"axis":{"values":[0,0.2,0.4,0.6,0.8,1],"format":"~g","title":"Reaction progress alpha (-)"}}}},
{"data": {"values": [{"a":0}]}, "mark": {"type":"rule","color":"#9a9a9a","strokeWidth":1,"strokeDash":[1,3]}, "encoding": {"x": {"field":"a","type":"quantitative","scale":{"domain":[-0.0104,1.0104],"nice":false,"zero":false},"axis":{"values":[0,0.2,0.4,0.6,0.8,1],"format":"~g","title":"Reaction progress alpha (-)"}}}},
{"data": {"name": "red"}, "mark": {"type":"point","shape":"circle","filled":false,"stroke":"#ff0000","strokeWidth":1.15,"size":20,"opacity":1},
 "encoding": {
  "x": {"field":"a","type":"quantitative","scale":{"domain":[-0.0104,1.0104],"nice":false,"zero":false},"axis":{"values":[0,0.2,0.4,0.6,0.8,1],"format":"~g","title":"Reaction progress alpha (-)"}},
  "y": {"field":"e","type":"quantitative","scale":{"domain":[60,180],"nice":false,"zero":false},
        "axis": {"orient":"left","values":[60,80,100,120,140,160,180],"title":"E (kJ/mol)","grid":false,"labelFont":"Liberation Sans","labelFontSize":17,"labelFontWeight":"bold","labelColor":"#ff0000","labelFlush":false,"titleFont":"Liberation Sans","titleFontSize":17,"titleFontWeight":"bold","titleColor":"#ff0000","domainColor":"#9a9a9a","domainWidth":3,"tickColor":"#9a9a9a","tickSize":4,"labelPadding":3,"titlePadding":6}}
 }},
{"data": {"name": "blue"}, "mark": {"type":"line","color":"#0000ff","strokeWidth":1.8},
 "encoding": {
  "x": {"field":"a","type":"quantitative","scale":{"domain":[-0.0104,1.0104],"nice":false,"zero":false},"axis":{"values":[0,0.2,0.4,0.6,0.8,1],"format":"~g","title":"Reaction progress alpha (-)"}},
  "y": {"field":"r","type":"quantitative","scale":{"domain":[0,60],"nice":false,"zero":false},
        "axis": {"orient":"right","values":[0,5,10,15,20,25,30,35,40,45,50,55,60],"title":"Ln(A(alpha)·f(alpha)(1/s)) (-)","grid":false,"labelFont":"Liberation Sans","labelFontSize":17,"labelFontWeight":"bold","labelColor":"#0000ff","labelFlush":false,"labelOverlap":false,"titleFont":"Liberation Sans","titleFontSize":17,"titleFontWeight":"bold","titleColor":"#0000ff","titleAngle":270,"titleBaseline":"top","domainColor":"#9a9a9a","domainWidth":3,"tickColor":"#9a9a9a","tickSize":3,"labelPadding":2,"titlePadding":3}}
 }},
{"data": {"name": "ell"}, "mark": {"type":"line","color":"#0f820f","strokeWidth":4.5,"strokeDash":[15,9],"interpolate":"cardinal-closed","clip":false},
 "encoding": {
  "x": {"field":"a","type":"quantitative","scale":{"domain":[-0.0104,1.0104],"nice":false,"zero":false},"axis":{"values":[0,0.2,0.4,0.6,0.8,1],"format":"~g","title":"Reaction progress alpha (-)"}},
  "y": {"field":"e","type":"quantitative","scale":{"domain":[60,180],"nice":false,"zero":false},"axis":null},
  "order": {"field":"i","type":"quantitative"}
 }}
],
"resolve": {"scale": {"y": "independent"}, "axis": {"y": "independent"}}
}
